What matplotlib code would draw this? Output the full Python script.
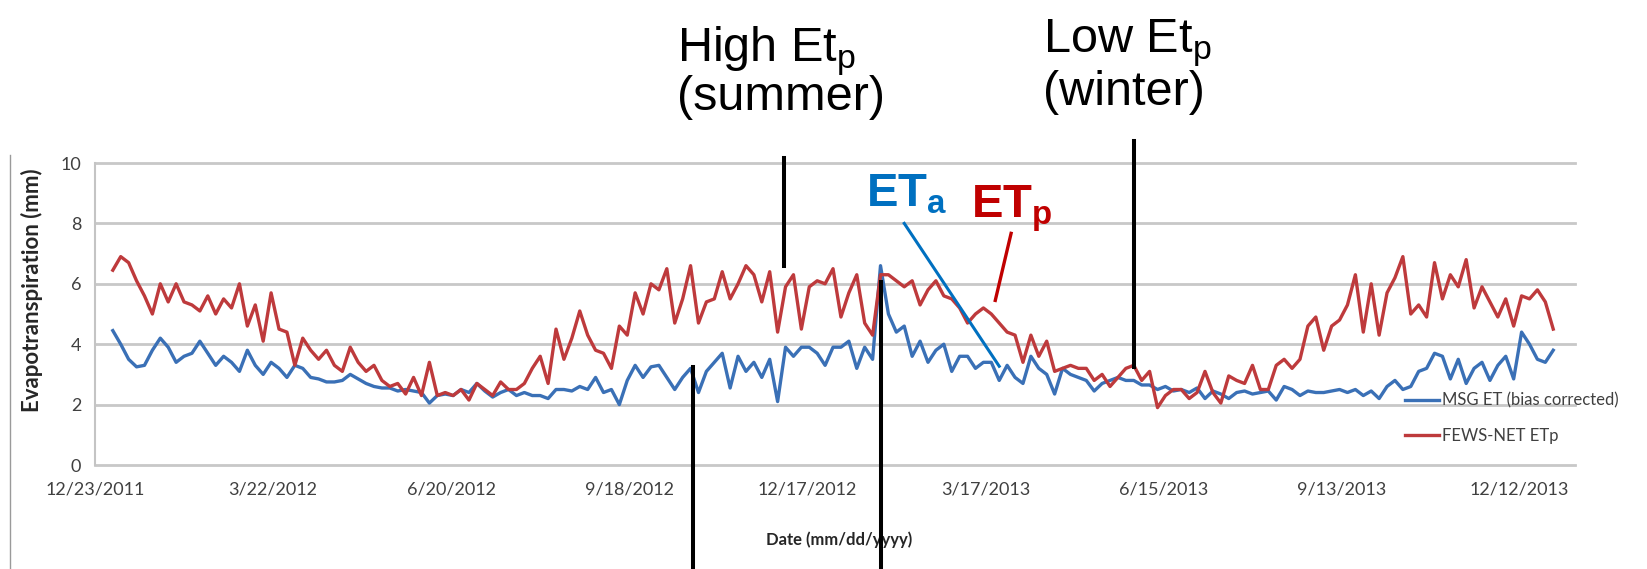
import pandas as pd
import matplotlib
matplotlib.use("Agg")
from matplotlib import pyplot as plt
from matplotlib.lines import Line2D

# daily series, one value every 4 days from 1/1/2012
start = "2012-01-01"
step = "4D"

# FEWS-NET ETp (mm)
et_p = [
    6.45, 6.9, 6.7, 6.1, 5.6, 5.0, 6.0, 5.4, 6.0, 5.4,
    5.3, 5.1, 5.6, 5.0, 5.5, 5.2, 6.0, 4.6, 5.3, 4.1,
    5.7, 4.5, 4.4, 3.3, 4.2, 3.8, 3.5, 3.8, 3.3, 3.1,
    3.9, 3.4, 3.1, 3.3, 2.8, 2.6, 2.7, 2.35, 2.9, 2.3,
    3.4, 2.3, 2.4, 2.3, 2.5, 2.15, 2.7, 2.5, 2.3, 2.75,
    2.5, 2.5, 2.7, 3.2, 3.6, 2.7, 4.5, 3.5, 4.2, 5.1,
    4.3, 3.8, 3.7, 3.2, 4.6, 4.3, 5.7, 5.0, 6.0, 5.8,
    6.5, 4.7, 5.5, 6.6, 4.7, 5.4, 5.5, 6.4, 5.5, 6.0,
    6.6, 6.3, 5.4, 6.4, 4.4, 5.9, 6.3, 4.5, 5.9, 6.1,
    6.0, 6.5, 4.9, 5.7, 6.3, 4.7, 4.3, 6.3, 6.3, 6.1,
    5.9, 6.1, 5.3, 5.8, 6.1, 5.6, 5.5, 5.2, 4.7, 5.0,
    5.2, 5.0, 4.7, 4.4, 4.3, 3.4, 4.3, 3.6, 4.1, 3.1,
    3.2, 3.3, 3.2, 3.2, 2.8, 3.0, 2.6, 2.9, 3.2, 3.3,
    2.8, 3.1, 1.9, 2.3, 2.5, 2.5, 2.2, 2.4, 3.1, 2.4,
    2.05, 2.95, 2.8, 2.7, 3.3, 2.5, 2.5, 3.3, 3.5, 3.2,
    3.5, 4.6, 4.9, 3.8, 4.6, 4.8, 5.3, 6.3, 4.4, 6.0,
    4.3, 5.7, 6.2, 6.9, 5.0, 5.3, 4.9, 6.7, 5.5, 6.3,
    5.9, 6.8, 5.2, 5.9, 5.4, 4.9, 5.5, 4.6, 5.6, 5.5,
    5.8, 5.4, 4.5,
]

# MSG ET bias corrected (mm)
et_a = [
    4.45, 4.0, 3.5, 3.25, 3.3, 3.8, 4.2, 3.9, 3.4, 3.6,
    3.7, 4.1, 3.7, 3.3, 3.6, 3.4, 3.1, 3.8, 3.3, 3.0,
    3.4, 3.2, 2.9, 3.3, 3.2, 2.9, 2.85, 2.75, 2.75, 2.8,
    3.0, 2.85, 2.7, 2.6, 2.55, 2.55, 2.45, 2.5, 2.45, 2.4,
    2.05, 2.3, 2.35, 2.3, 2.5, 2.4, 2.7, 2.45, 2.25, 2.4,
    2.5, 2.3, 2.4, 2.3, 2.3, 2.2, 2.5, 2.5, 2.45, 2.6,
    2.5, 2.9, 2.4, 2.5, 2.0, 2.8, 3.3, 2.9, 3.25, 3.3,
    2.9, 2.5, 2.9, 3.2, 2.4, 3.1, 3.4, 3.7, 2.55, 3.6,
    3.1, 3.4, 2.9, 3.5, 2.1, 3.9, 3.6, 3.9, 3.9, 3.7,
    3.3, 3.9, 3.9, 4.1, 3.2, 3.9, 3.5, 6.6, 5.0, 4.4,
    4.6, 3.6, 4.1, 3.4, 3.8, 4.0, 3.1, 3.6, 3.6, 3.2,
    3.4, 3.4, 2.8, 3.3, 2.9, 2.7, 3.6, 3.2, 3.0, 2.35,
    3.2, 3.0, 2.9, 2.8, 2.45, 2.7, 2.8, 2.9, 2.8, 2.8,
    2.65, 2.65, 2.5, 2.6, 2.45, 2.5, 2.4, 2.55, 2.2, 2.45,
    2.35, 2.2, 2.4, 2.45, 2.35, 2.4, 2.45, 2.15, 2.6, 2.5,
    2.3, 2.45, 2.4, 2.4, 2.45, 2.5, 2.4, 2.5, 2.3, 2.45,
    2.2, 2.6, 2.8, 2.5, 2.6, 3.1, 3.2, 3.7, 3.6, 2.85,
    3.5, 2.7, 3.2, 3.4, 2.8, 3.3, 3.6, 2.85, 4.4, 4.0,
    3.5, 3.4, 3.8,
]

tick_labels = ["12/23/2011", "3/22/2012", "6/20/2012", "9/18/2012", "12/17/2012",
               "3/17/2013", "6/15/2013", "9/13/2013", "12/12/2013"]

# callout lines: (date, from value, to value)
callouts_black = [("2012-12-05", 6.58, 10.15), ("2013-05-31", 3.24, 10.74),
                  ("2012-10-20", 3.24, -3.44), ("2013-01-23", 6.05, -3.44)]
pointer_a = (("2013-02-04", 8.0), ("2013-03-24", 3.27))
pointer_p = (("2013-03-30", 7.67), ("2013-03-22", 5.45))

plt.rcParams["font.family"] = ["Lato", "DejaVu Sans"]
plt.rcParams["mathtext.default"] = "regular"

dates = pd.date_range(start, periods=len(et_p), freq=step)
ticks = pd.to_datetime(tick_labels, format="%m/%d/%Y")

W, H = 1647, 569
fig = plt.figure(figsize=(W / 100, H / 100), dpi=100)
ax = fig.add_axes([95 / W, 104 / H, 1480 / W, 302 / H])

ax.plot(dates, et_a, color="#3a70b6", lw=2.4, label="MSG ET (bias corrected)")
ax.plot(dates, et_p, color="#be3a3c", lw=2.4, label="FEWS-NET ETp")

ax.set_xlim(ticks[0], ticks[0] + pd.Timedelta(days=748))
ax.set_ylim(0, 10)
ax.set_yticks(range(0, 11, 2))
ax.set_xticks(ticks)
ax.set_xticklabels(tick_labels)
ax.tick_params(length=0, labelsize=13, labelcolor="#404040")
ax.tick_params(axis="x", pad=12)
ax.tick_params(axis="y", pad=10)
ax.grid(axis="y", color="#c8c8c8", lw=2.0)
for gl in ax.get_ygridlines():
    gl.set_clip_on(False)
ax.set_axisbelow(True)
for s in ["top", "right", "bottom"]:
    ax.spines[s].set_visible(False)
ax.spines["left"].set_color("#c4c4c4")
ax.spines["left"].set_linewidth(1.5)

ax.set_ylabel("Evapotranspiration (mm)", fontsize=16, fontweight="bold", color="#262626")
ax.yaxis.set_label_coords(-0.035, 0.58)
ax.set_xlabel("Date (mm/dd/yyyy)", fontsize=12, fontweight="bold", color="#262626")
ax.xaxis.set_label_coords(0.503, -0.22)

leg = ax.legend(loc="upper left", bbox_to_anchor=(1397 / W, 1 - 384 / H),
                bbox_transform=fig.transFigure, frameon=False, fontsize=12,
                handlelength=2.0, handletextpad=0.2, labelspacing=1.15, borderpad=0)
for t in leg.get_texts():
    t.set_color("#404040")

# slide annotations
for d, v0, v1 in callouts_black:
    ax.plot([pd.Timestamp(d)] * 2, [v0, v1], color="black", lw=2.9, clip_on=False)
ax.plot([pd.Timestamp(pointer_a[0][0]), pd.Timestamp(pointer_a[1][0])],
        [pointer_a[0][1], pointer_a[1][1]], color="#0070c0", lw=2.2, clip_on=False)
ax.plot([pd.Timestamp(pointer_p[0][0]), pd.Timestamp(pointer_p[1][0])],
        [pointer_p[0][1], pointer_p[1][1]], color="#c00000", lw=2.4, clip_on=False)


def fx(x, y):
    return x / W, 1 - y / H


arial = ["Liberation Sans", "DejaVu Sans"]
fig.text(*fx(677, 61), "High Et$_{p}$", family=arial, fontsize=35, va="baseline")
fig.text(*fx(677, 110), "(summer)", family=arial, fontsize=35, va="baseline")
fig.text(*fx(1043, 52), "Low Et$_{p}$", family=arial, fontsize=35, va="baseline")
fig.text(*fx(1043, 105), "(winter)", family=arial, fontsize=35, va="baseline")
fig.text(*fx(866, 206), "ET$_{a}$", family=arial, fontsize=34, fontweight="bold",
         color="#0070c0", va="baseline")
fig.text(*fx(971, 217), "ET$_{p}$", family=arial, fontsize=34, fontweight="bold",
         color="#c00000", va="baseline")

# left border of the pasted chart image
fig.add_artist(Line2D([10 / W, 10 / W], [0, 1 - 155 / H], color="#9a9a9a", lw=1.0))

fig.savefig("out.png", dpi=100)
